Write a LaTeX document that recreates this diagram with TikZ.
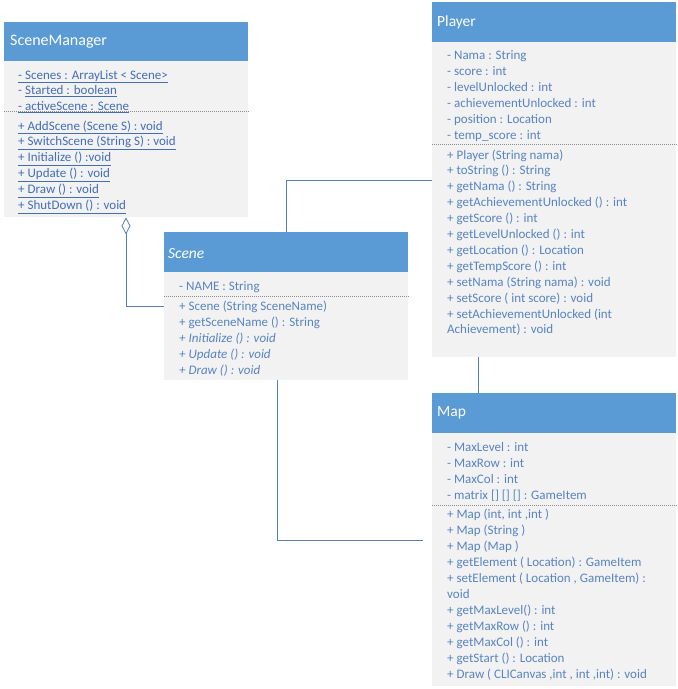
\documentclass[tikz,border=0pt]{standalone}
\usepackage{fontspec}
\setmainfont{Carlito}
\usetikzlibrary{arrows.meta}

\definecolor{hdr}{RGB}{91,155,213}
\definecolor{bodybg}{RGB}{242,242,242}
\definecolor{txt}{RGB}{88,132,196}
\definecolor{stxt}{RGB}{66,110,186}
\definecolor{wire}{RGB}{84,128,190}
\definecolor{sepc}{RGB}{140,140,140}

\tikzset{
  hdrbox/.style={fill=hdr, draw=none, inner sep=0pt, anchor=north west},
  bodybox/.style={fill=bodybg, draw=none, inner sep=0pt, anchor=north west},
  title/.style={anchor=west, text=white, inner sep=0pt, font=\fontsize{15.5}{18}\selectfont},
  member/.style={anchor=west, text=txt, inner sep=0pt, text height=10pt, text depth=2pt,
                 font=\fontsize{13}{15}\selectfont},
  smember/.style={member, text=stxt},
  sepline/.style={draw=sepc, line width=0.6pt, dash pattern=on 0.8pt off 1.2pt},
  wire/.style={draw=wire, line width=1pt},
}

\begin{document}
\begin{tikzpicture}[x=1pt,y=-1pt]
\useasboundingbox (0,0) rectangle (678,689);

% ---------------- SceneManager ----------------
\node[hdrbox, minimum width=244pt, minimum height=39pt] (smH) at (4,22) {};
\node[bodybox, minimum width=244pt, minimum height=156pt] (smB) at (4,61) {};
\node[title, font=\fontsize{16}{19}\selectfont] (smT) at (10,41.5) {SceneManager};
\foreach \t [count=\i] in {{\underline{- Scenes : ArrayList < Scene>}},
                           {- \underline{Started : boolean}},
                           {\underline{- activeScene : Scene}}}
  \node[smember] (sma\i) at (18,{75+(\i-1)*15.6}) {\t};
\draw[sepline] (smB.west |- 0,111) -- (smB.east |- 0,111);
\foreach \t [count=\i] in {{+ AddScene (Scene S) : void},
                           {+ SwitchScene (String S) : void},
                           {+ Initialize () :void},
                           {+ Update () : void},
                           {+ Draw () : void},
                           {+ ShutDown () : void}}
  \node[smember] (smm\i) at (18,{126+(\i-1)*15.9}) {\underline{\t}};

% ---------------- Player ----------------
\node[hdrbox, minimum width=244pt, minimum height=40pt] (plH) at (432,2) {};
\node[bodybox, minimum width=244pt, minimum height=315pt] (plB) at (432,42) {};
\node[title] (plT) at (437,22) {Player};
\foreach \t [count=\i] in {{- Nama : String},
                           {- score : int},
                           {- levelUnlocked : int},
                           {- achievementUnlocked : int},
                           {- position : Location},
                           {- temp\_score : int}}
  \node[member] (pla\i) at (447,{55+(\i-1)*16}) {\t};
\draw[sepline] (plB.west |- 0,144) -- (plB.east |- 0,144);
\foreach \t [count=\i] in {{+ Player (String nama)},
                           {+ toString () : String},
                           {+ getNama () : String},
                           {+ getAchievementUnlocked () : int},
                           {+ getScore () : int},
                           {+ getLevelUnlocked () : int},
                           {+ getLocation () : Location},
                           {+ getTempScore () : int},
                           {+ setNama (String nama) : void},
                           {+ setScore ( int score) : void},
                           {+ setAchievementUnlocked (int},
                           {Achievement) : void}}
  \node[member] (plm\i) at (447,{155+(\i-1)*15.9}) {\t};

% ---------------- Scene ----------------
\node[hdrbox, minimum width=244pt, minimum height=40pt] (scH) at (164,232) {};
\node[bodybox, minimum width=244pt, minimum height=108pt] (scB) at (164,272) {};
\node[title] (scT) at (168,254) {\itshape Scene};
\node[member] (sca1) at (179,286) {- NAME : String};
\draw[sepline] (scB.west |- 0,296) -- (scB.east |- 0,296);
\foreach \t [count=\i] in {{+ Scene (String SceneName)},
                           {+ getSceneName () : String},
                           {\itshape + Initialize () : void},
                           {\itshape + Update () : void},
                           {\itshape + Draw () : void}}
  \node[member] (scm\i) at (179,{306+(\i-1)*16}) {\t};

% ---------------- Map ----------------
\node[hdrbox, minimum width=244pt, minimum height=40pt] (mpH) at (432,393) {};
\node[bodybox, minimum width=244pt, minimum height=253pt] (mpB) at (432,433) {};
\node[title] (mpT) at (437,413) {Map};
\foreach \t [count=\i] in {{- MaxLevel : int},
                           {- MaxRow : int},
                           {- MaxCol : int},
                           {- matrix [] [] [] : GameItem}}
  \node[member] (mpa\i) at (447,{447+(\i-1)*16}) {\t};
\draw[sepline] (mpB.west |- 0,505) -- (mpB.east |- 0,505);
\foreach \t [count=\i] in {{+ Map (int, int ,int )},
                           {+ Map (String )},
                           {+ Map (Map )},
                           {+ getElement ( Location) : GameItem},
                           {+ setElement ( Location , GameItem) :},
                           {void},
                           {+ getMaxLevel() : int},
                           {+ getMaxRow () : int},
                           {+ getMaxCol () : int},
                           {+ getStart () : Location},
                           {+ Draw ( CLICanvas ,int , int ,int) : void}}
  \node[member] (mpm\i) at (447,{514+(\i-1)*16}) {\t};

% ---------------- connectors ----------------
% aggregation: SceneManager holds Scenes
\draw[wire, {Diamond[open, fill=white, length=17pt, width=9pt, line width=0.8pt]}-]
  (smB.south -| 126,0) |- (scB.west |- 0,306);
% Scene -- Player
\draw[wire] (scH.north -| 286,0) |- (plB.west |- 0,180);
% Player -- Map
\draw[wire] (plB.south -| 478,0) -- (mpH.north -| 478,0);
% Scene -- Map (line stops short of the Map box)
\coordinate (mapstub) at ([xshift=-9pt]mpB.west |- 0,540);
\draw[wire] (scB.south -| 277,0) |- (mapstub);
\end{tikzpicture}
\end{document}
